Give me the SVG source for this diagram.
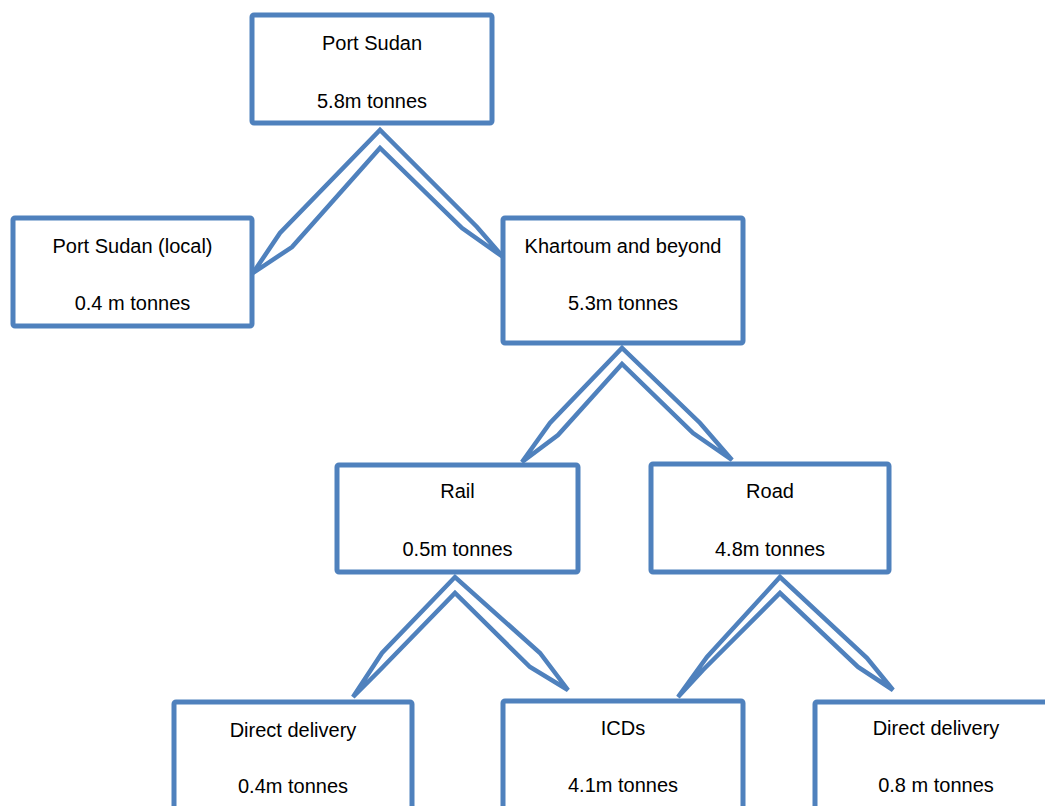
<svg xmlns="http://www.w3.org/2000/svg" width="1045" height="806" viewBox="0 0 1045 806">
<style>
.box{fill:#fff;stroke:#4F81BD;stroke-width:5}
.con{fill:none;stroke:#4F81BD;stroke-width:4.5;stroke-linejoin:miter;stroke-miterlimit:4}
text{font-family:"Liberation Sans",Arial,sans-serif;font-size:20px;fill:#000;text-anchor:middle}
</style>
<rect width="1045" height="806" fill="#fff"/>
<g id="connectors">
<path class="con" d="M253,273 L280,233 L380,130 L477,227 L503,257 L462,228 L380,148 L292,247 Z"/>
<path class="con" d="M522,462 L550,423 L622,348 L700,423 L732,460 L693,433 L622,364 L558,435 Z"/>
<path class="con" d="M353,697 L382,653 L455,577 L540,653 L568,690 L530,667 L455,593 L380,670 Z"/>
<path class="con" d="M678,697 L707,657 L780,577 L867,658 L893,690 L858,667 L780,593 L703,670 Z"/>
</g>
<g id="port-sudan">
<rect class="box" x="252" y="15" width="240" height="108" rx="2"/>
<text x="372" y="50">Port Sudan</text>
<text x="372" y="108">5.8m tonnes</text>
</g>
<g id="port-sudan-local">
<rect class="box" x="13" y="218" width="239" height="108" rx="2"/>
<text x="132.5" y="253">Port Sudan (local)</text>
<text x="132.5" y="310">0.4 m tonnes</text>
</g>
<g id="khartoum">
<rect class="box" x="503" y="218" width="240" height="125" rx="2"/>
<text x="623" y="253">Khartoum and beyond</text>
<text x="623" y="310">5.3m tonnes</text>
</g>
<g id="rail">
<rect class="box" x="337" y="465" width="241" height="107" rx="2"/>
<text x="457.5" y="498">Rail</text>
<text x="457.5" y="556">0.5m tonnes</text>
</g>
<g id="road">
<rect class="box" x="651" y="464" width="238" height="108" rx="2"/>
<text x="770" y="498">Road</text>
<text x="770" y="556">4.8m tonnes</text>
</g>
<g id="direct-delivery-rail">
<rect class="box" x="174" y="702" width="238" height="130" rx="2"/>
<text x="293" y="737">Direct delivery</text>
<text x="293" y="793">0.4m tonnes</text>
</g>
<g id="icds">
<rect class="box" x="503" y="701" width="240" height="130" rx="2"/>
<text x="623" y="735">ICDs</text>
<text x="623" y="792">4.1m tonnes</text>
</g>
<g id="direct-delivery-road">
<rect class="box" x="815" y="702" width="242" height="130" rx="2"/>
<text x="936" y="735">Direct delivery</text>
<text x="936" y="792">0.8 m tonnes</text>
</g>
</svg>
